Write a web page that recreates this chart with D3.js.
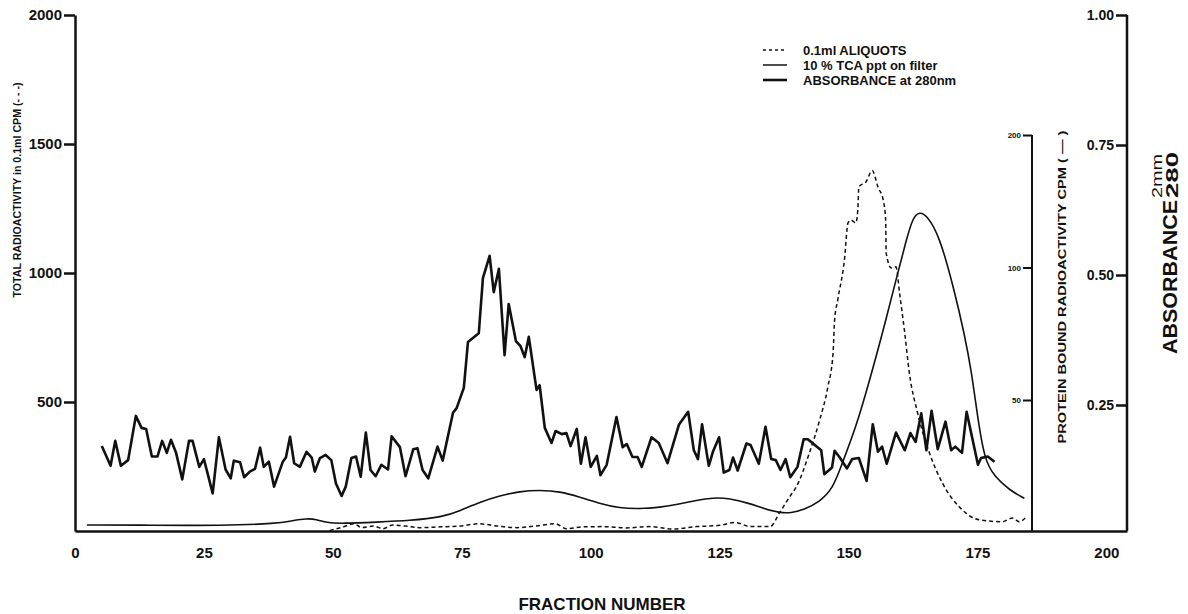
<!DOCTYPE html>
<html>
<head>
<meta charset="UTF-8">
<title>Fraction profile</title>
<script src="https://d3js.org/d3.v7.min.js"></script>
<style>
  body { margin: 0; background: #fff; }
  svg { display: block; }
  text { font-family: "Liberation Sans", Arial, sans-serif; fill: #111; }
</style>
</head>
<body>
<div id="chart"></div>
<script>
// tick labels
var fractionTicks = [0, 25, 50, 75, 100, 125, 150, 175, 200];
var cpmTicks = [500, 1000, 1500, 2000];
var tcaTicks = [50, 100, 200];
var absTicks = [0.25, 0.50, 0.75, 1.00];
var legendLabels = ["0.1ml ALIQUOTS", "10 % TCA ppt on filter", "ABSORBANCE at 280nm"];

// absorbance at 280nm  [fraction, A280]
var absorbance280 = [
  [5.2,0.171],[6.9,0.133],[7.8,0.181],[8.9,0.133],[10.3,0.144],[11.8,0.229],[12.9,0.206],[13.8,0.204],
  [14.9,0.151],[16.0,0.151],[16.9,0.181],[17.8,0.158],[18.6,0.183],[19.6,0.158],[20.8,0.107],[22.1,0.181],
  [22.8,0.181],[24.1,0.131],[25.0,0.146],[26.7,0.080],[27.9,0.188],[29.2,0.126],[30.2,0.109],[30.8,0.143],
  [32.0,0.140],[32.8,0.111],[33.9,0.122],[34.9,0.127],[35.9,0.168],[36.6,0.131],[37.6,0.141],[38.6,0.093],
  [40.3,0.141],[40.9,0.149],[41.7,0.189],[42.5,0.138],[43.6,0.131],[44.9,0.160],[45.9,0.149],[46.5,0.122],
  [47.5,0.148],[48.6,0.154],[49.7,0.144],[50.6,0.099],[51.7,0.075],[52.5,0.093],[53.6,0.148],[54.5,0.151],
  [55.4,0.112],[56.4,0.197],[57.3,0.125],[58.3,0.113],[59.4,0.135],[60.7,0.126],[61.4,0.190],[63.0,0.169],
  [64.1,0.113],[65.6,0.165],[66.4,0.167],[67.4,0.125],[68.5,0.109],[70.3,0.170],[71.3,0.143],[73.3,0.235],
  [74.0,0.244],[75.4,0.283],[76.2,0.371],[78.3,0.388],[79.1,0.494],[80.4,0.537],[81.2,0.467],[82.2,0.512],
  [83.3,0.346],[84.1,0.444],[85.5,0.373],[86.4,0.363],[87.2,0.342],[88.0,0.381],[89.5,0.279],[90.1,0.288],
  [91.1,0.206],[92.4,0.177],[93.2,0.200],[94.4,0.194],[95.3,0.196],[96.1,0.171],[97.3,0.204],[98.1,0.137],
  [99.0,0.188],[100.0,0.131],[101.2,0.152],[101.9,0.115],[103.1,0.135],[105.0,0.227],[106.2,0.169],[107.0,0.175],
  [108.1,0.150],[109.1,0.150],[109.9,0.131],[111.8,0.188],[113.2,0.177],[114.9,0.138],[117.1,0.212],[118.9,0.237],
  [120.0,0.163],[120.8,0.146],[121.6,0.213],[122.9,0.133],[123.7,0.160],[124.9,0.188],[125.8,0.120],[126.9,0.125],
  [127.6,0.149],[128.5,0.124],[130.2,0.176],[131.0,0.173],[132.6,0.137],[133.9,0.208],[135.0,0.146],[135.9,0.144],
  [136.8,0.125],[137.8,0.146],[138.7,0.111],[140.1,0.131],[141.3,0.184],[142.1,0.184],[144.7,0.163],[145.3,0.117],
  [146.8,0.130],[147.3,0.162],[148.3,0.149],[149.7,0.128],[150.7,0.146],[152.0,0.148],[153.5,0.104],[154.7,0.213],
  [155.7,0.160],[156.5,0.170],[157.4,0.137],[159.2,0.197],[160.9,0.163],[162.0,0.196],[163.0,0.179],[164.1,0.234],
  [165.1,0.163],[166.1,0.239],[167.3,0.165],[168.8,0.218],[169.9,0.163],[170.7,0.170],[172.0,0.158],[172.9,0.237],
  [175.1,0.135],[175.7,0.148],[177.0,0.151],[178.3,0.141]
];

// total radioactivity in 0.1ml aliquots  [fraction, CPM]
var aliquotCpm = [
  [49.4,2],[51.6,13],[54.1,28],[55.6,13],[57.9,19],[59.7,9],[61.6,23],[64.1,19],[67.2,13],[70.9,16],
  [74.6,19],[78.3,28],[82.0,19],[85.7,13],[89.3,19],[93.1,28],[95.3,9],[98.3,16],[102.3,17],[106.9,12],
  [111.4,17],[115.9,8],[120.5,17],[125.0,22],[128.0,33],[131.0,17],[134.8,17],[136.6,70],[138.6,133],
  [139.9,172],[142.4,302],[144.4,430],[146.0,559],[147.0,690],[147.3,818],[147.9,895],[149.2,1050],
  [149.9,1194],[150.5,1205],[151.4,1194],[151.8,1244],[152.0,1334],[153.4,1354],[154.6,1397],[155.7,1334],
  [156.8,1276],[157.2,1205],[157.3,1078],[158.3,1019],[159.2,1024],[159.9,922],[160.9,767],[161.8,612],
  [163.4,457],[165.7,302],[168.2,186],[171.5,93],[175.4,43],[179.8,36],[181.8,50],[183.1,36],[184.5,55]
];

// protein bound radioactivity, 10% TCA ppt on filter  [fraction, CPM]
var tcaCpm = [
  [2.3,26.0],[11.2,26.0],[29.4,25.9],[39.1,26.2],[42.2,26.6],[44.9,26.9],[46.8,26.8],[48.8,26.3],
  [51.9,26.2],[58.5,26.4],[64.9,26.6],[71.3,27.1],[74.6,28.0],[78.5,29.3],[82.4,30.3],[86.2,31.0],
  [90.1,31.2],[94.0,31.0],[97.9,30.1],[101.7,29.1],[105.6,28.4],[109.5,28.3],[113.4,28.5],[117.2,29.0],
  [120.5,29.6],[123.7,30.0],[126.9,29.9],[130.8,29.1],[133.4,28.4],[136.6,27.7],[138.9,27.7],[141.1,28.1],
  [144.4,29.3],[147.0,31.6],[148.3,34.7],[151.5,43.5],[154.1,55.5],[156.6,71.0],[159.2,93.7],[161.2,115.5],
  [162.5,130.2],[163.8,133.7],[165.1,131.6],[167.6,118.5],[170.5,88.9],[172.5,70.3],[173.8,58.5],[175.1,45.1],
  [176.4,36.5],[178.3,33.5],[181.2,31.2],[184.1,29.9]
];

var width = 1188, height = 614;

var svg = d3.select("#chart").append("svg")
    .attr("width", width)
    .attr("height", height);

var x = d3.scaleLinear().domain([0, 204]).range([75, 1127]);
var yCpm = d3.scaleLinear().domain([0, 2000]).range([531, 15]);
var yTca = d3.scaleLog().domain([50, 200]).range([400, 135]);
var yAbs = d3.scaleLinear().domain([0, 1]).range([535, 15]);

// bottom axis
var xAxis = svg.append("g")
    .attr("transform", "translate(0," + yCpm(0) + ")")
    .call(d3.axisBottom(x).tickValues(fractionTicks).tickSize(0).tickSizeOuter(0).tickPadding(16));
xAxis.select(".domain").attr("stroke", "#111").attr("stroke-width", 2.5);
xAxis.selectAll("text").attr("font-size", 15).attr("font-weight", "bold");

// left axis
var leftAxis = svg.append("g")
    .attr("transform", "translate(" + x(0) + ",0)")
    .call(d3.axisLeft(yCpm).tickValues(cpmTicks).tickFormat(d3.format("d"))
        .tickSize(11).tickSizeOuter(0).tickPadding(2));
leftAxis.select(".domain").attr("stroke", "#111").attr("stroke-width", 2.5);
leftAxis.selectAll(".tick line").attr("stroke", "#111").attr("stroke-width", 2.5);
leftAxis.selectAll("text").attr("font-size", 15).attr("font-weight", "bold");

// inner axis (protein bound)
var tcaAxis = svg.append("g")
    .attr("transform", "translate(1032,0)")
    .call(d3.axisLeft(yTca).tickValues(tcaTicks).tickFormat(d3.format("d"))
        .tickSize(9).tickSizeOuter(0).tickPadding(2));
tcaAxis.select(".domain").remove();
tcaAxis.append("line")
    .attr("y1", yTca(200)).attr("y2", yCpm(0))
    .attr("stroke", "#111").attr("stroke-width", 2);
tcaAxis.selectAll(".tick line").attr("stroke", "#111").attr("stroke-width", 2);
tcaAxis.selectAll("text").attr("font-size", 8).attr("font-weight", "bold");

// outer right axis (absorbance)
var absAxis = svg.append("g")
    .attr("transform", "translate(" + x(204) + ",0)")
    .call(d3.axisLeft(yAbs).tickValues(absTicks).tickFormat(d3.format(".2f"))
        .tickSize(11).tickSizeOuter(0).tickPadding(2));
absAxis.select(".domain").remove();
absAxis.append("line")
    .attr("y1", yAbs(1)).attr("y2", yCpm(0))
    .attr("stroke", "#111").attr("stroke-width", 2.5);
absAxis.selectAll(".tick line").attr("stroke", "#111").attr("stroke-width", 2.5);
absAxis.selectAll("text").attr("font-size", 14).attr("font-weight", "bold");

// lines
var absLine = d3.line().x(function(d) { return x(d[0]); }).y(function(d) { return yAbs(d[1]); });
var aliquotLine = d3.line().curve(d3.curveMonotoneX)
    .x(function(d) { return x(d[0]); }).y(function(d) { return yCpm(d[1]); });
var tcaLine = d3.line().curve(d3.curveBasis)
    .x(function(d) { return x(d[0]); }).y(function(d) { return yTca(d[1]); });

svg.append("path")
    .attr("d", tcaLine(tcaCpm))
    .attr("fill", "none").attr("stroke", "#111").attr("stroke-width", 1.6);

svg.append("path")
    .attr("d", aliquotLine(aliquotCpm))
    .attr("fill", "none").attr("stroke", "#111").attr("stroke-width", 1.5)
    .attr("stroke-dasharray", "4,3");

svg.append("path")
    .attr("d", absLine(absorbance280))
    .attr("fill", "none").attr("stroke", "#111").attr("stroke-width", 2.6)
    .attr("stroke-linejoin", "round");

// axis titles
svg.append("text")
    .attr("transform", "translate(21,190) rotate(-90)")
    .attr("text-anchor", "middle")
    .attr("font-size", 10).attr("font-weight", "bold")
    .attr("textLength", 215).attr("lengthAdjust", "spacingAndGlyphs")
    .text("TOTAL RADIOACTIVITY in 0.1ml CPM (- - -)");

svg.append("text")
    .attr("transform", "translate(1066,287) rotate(-90)")
    .attr("text-anchor", "middle")
    .attr("font-size", 11).attr("font-weight", "bold")
    .attr("textLength", 313).attr("lengthAdjust", "spacingAndGlyphs")
    .text("PROTEIN BOUND RADIOACTIVITY CPM ( \u2014 )");

var absTitle = svg.append("g").attr("transform", "translate(1177,354) rotate(-90)");
absTitle.append("text")
    .attr("font-size", 20).attr("font-weight", "bold")
    .attr("textLength", 154).attr("lengthAdjust", "spacingAndGlyphs")
    .text("ABSORBANCE");
absTitle.append("text")
    .attr("x", 156).attr("y", -15)
    .attr("font-size", 15)
    .attr("textLength", 44).attr("lengthAdjust", "spacingAndGlyphs")
    .text("2mm");
absTitle.append("text")
    .attr("x", 156).attr("y", 1)
    .attr("font-size", 17).attr("font-weight", "bold")
    .attr("textLength", 46).attr("lengthAdjust", "spacingAndGlyphs")
    .text("280");

svg.append("text")
    .attr("x", 602).attr("y", 610)
    .attr("text-anchor", "middle")
    .attr("font-size", 17).attr("font-weight", "bold")
    .text("FRACTION NUMBER");

// legend
var legend = svg.append("g").attr("transform", "translate(763,50)");
var legendRows = legend.selectAll("g").data(legendLabels).enter().append("g")
    .attr("transform", function(d, i) { return "translate(0," + (i * 15) + ")"; });
legendRows.append("line")
    .attr("x1", 0).attr("x2", 24)
    .attr("stroke", "#111")
    .attr("stroke-width", function(d, i) { return i === 2 ? 2.6 : 1.5; })
    .attr("stroke-dasharray", function(d, i) { return i === 0 ? "3,3" : null; });
legendRows.append("text")
    .attr("x", 40).attr("dy", "0.35em")
    .attr("font-size", 13).attr("font-weight", "bold")
    .text(function(d) { return d; });
</script>
</body>
</html>
